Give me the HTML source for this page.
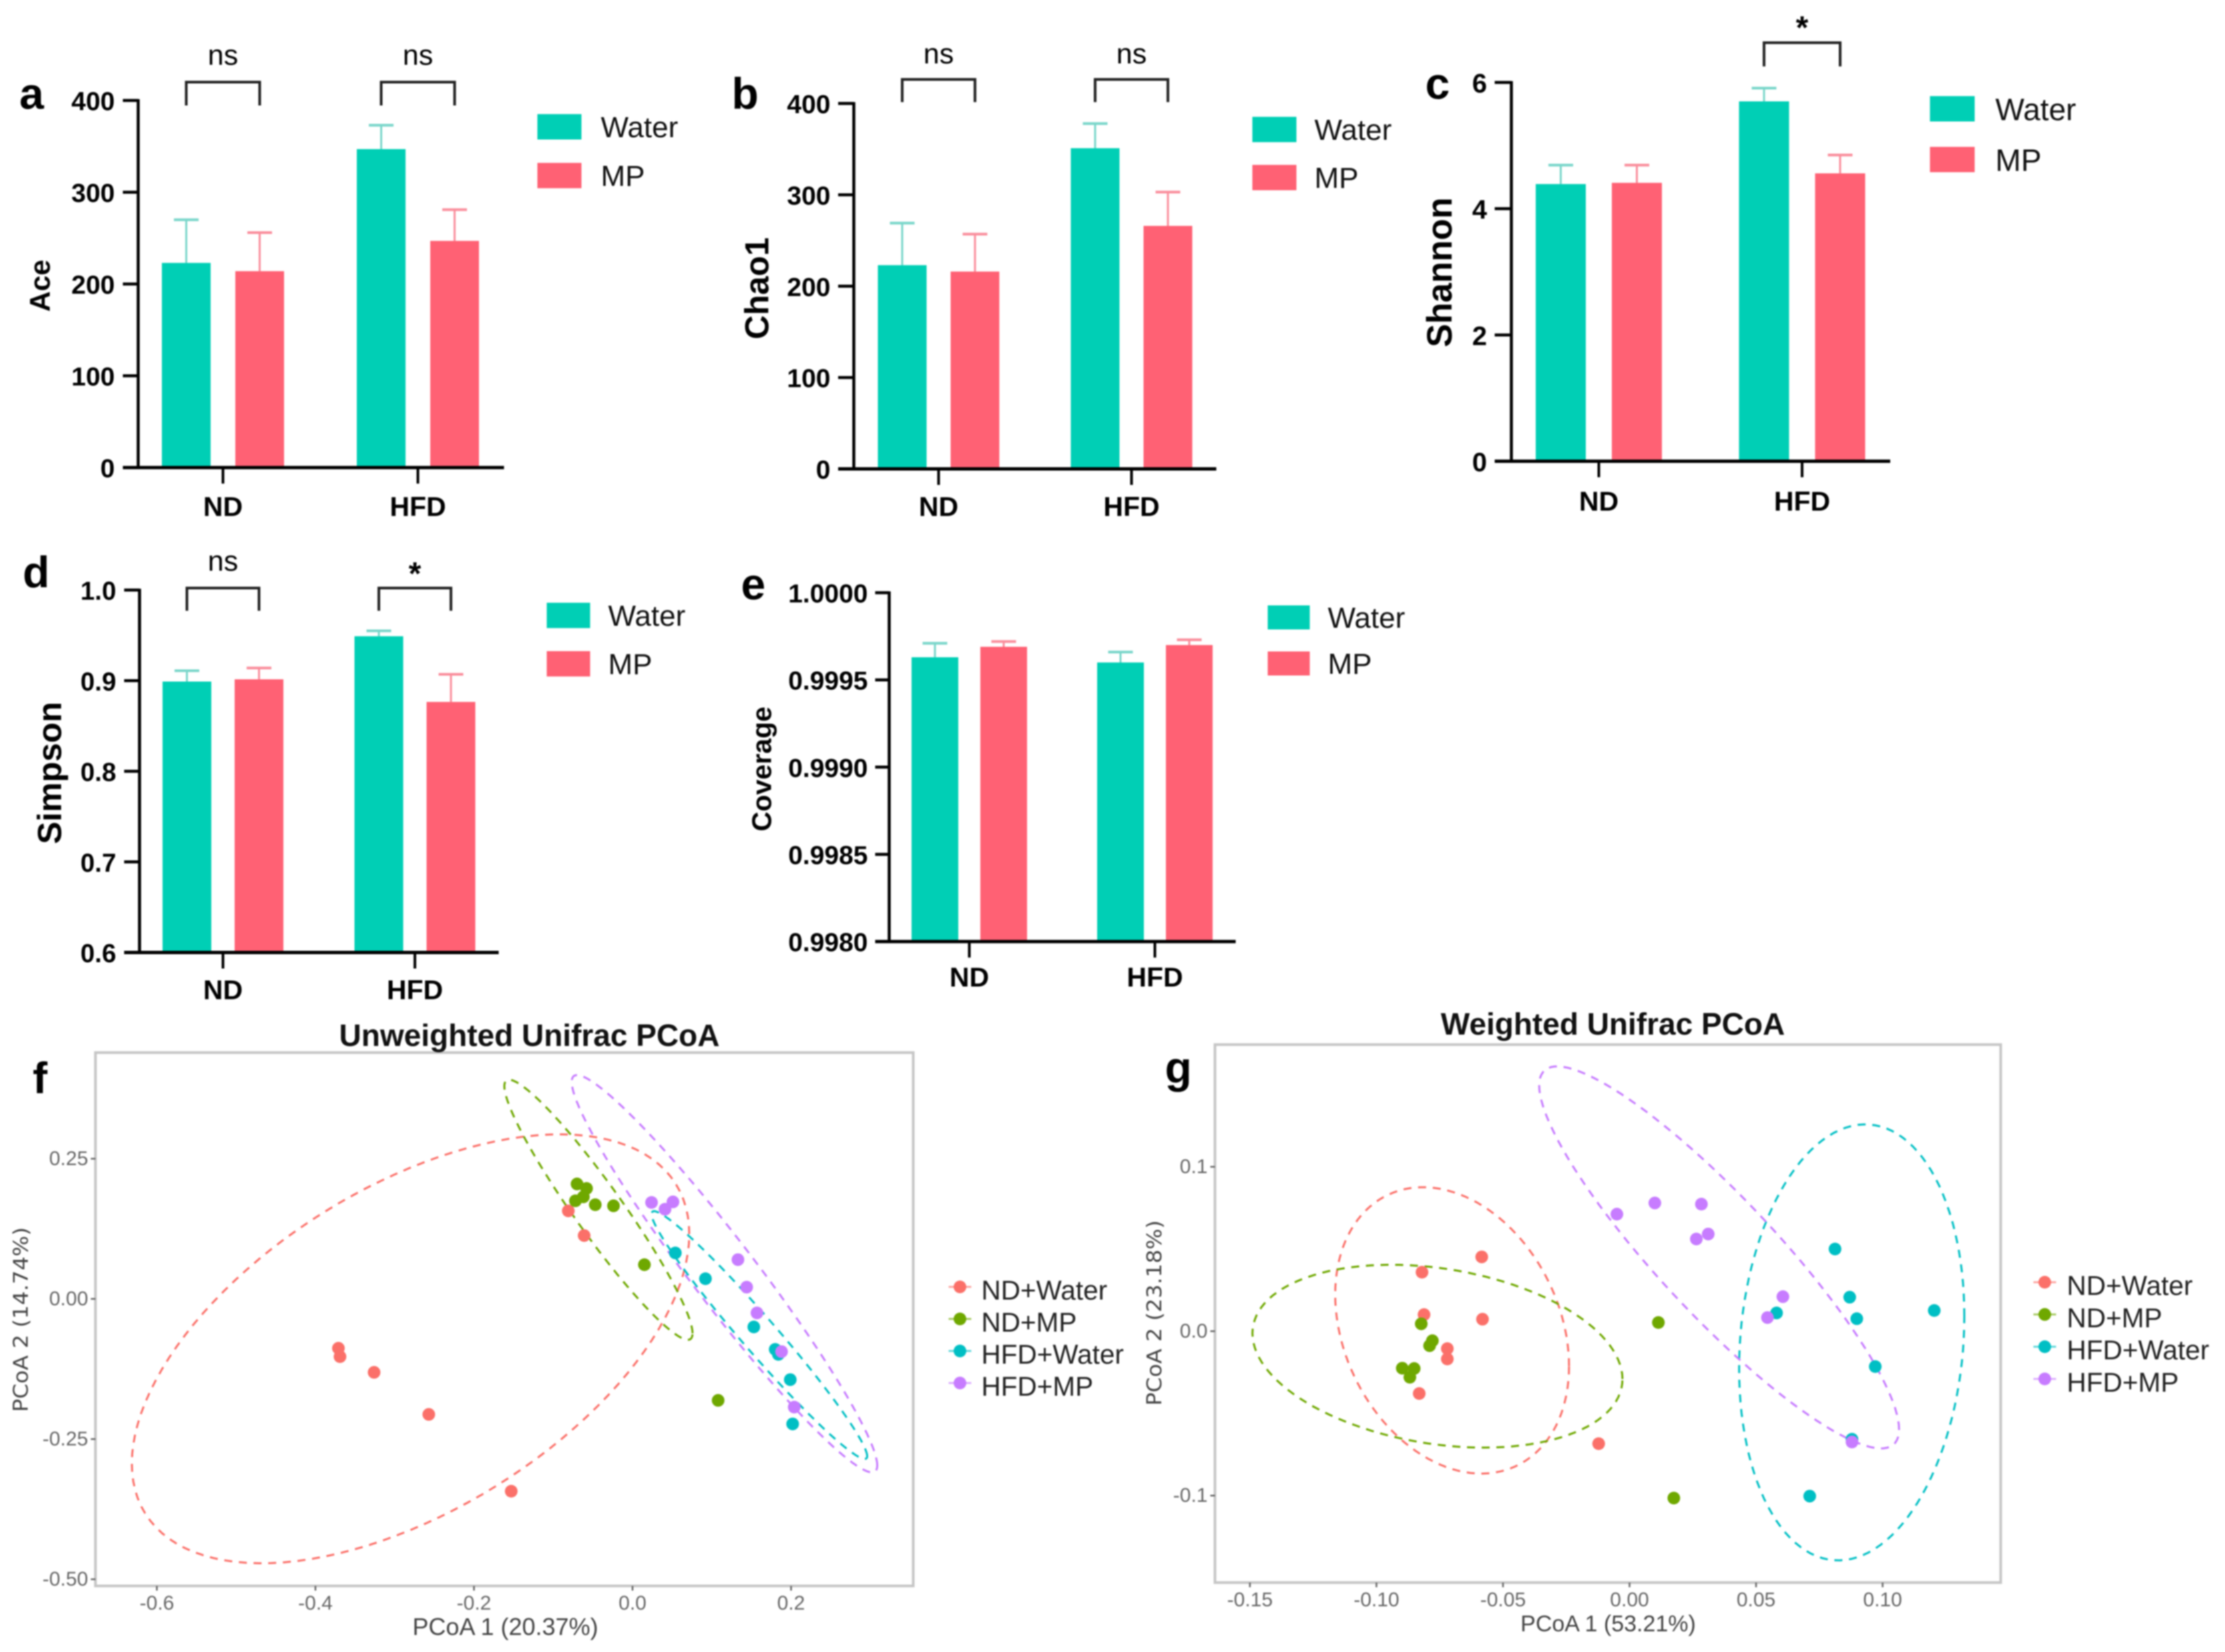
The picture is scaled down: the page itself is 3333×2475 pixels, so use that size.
<!DOCTYPE html>
<html lang="en">
<head>
<meta charset="utf-8">
<title>Alpha diversity and PCoA panels</title>
<style>
html,body{margin:0;padding:0;background:#fff;}
svg{display:block;filter:blur(1px);}
text{font-family:"Liberation Sans",sans-serif;}
</style>
</head>
<body>
<svg id="figure" xmlns="http://www.w3.org/2000/svg" width="3333" height="2475" viewBox="0 0 3333 2475">
  <rect x="0" y="0" width="3333" height="2475" fill="#ffffff"/>
  <g id="panel-a"></g>
  <g id="panel-b"></g>
  <g id="panel-c"></g>
  <g id="panel-d"></g>
  <g id="panel-e"></g>
  <g id="panel-f"></g>
  <g id="panel-g"></g>
</svg>
<script>
// ---------- shared categories ----------
const barGroups = ['ND', 'HFD'];
const barSeriesNames = ['Water', 'MP'];
const scatterSeriesNames = ['ND+Water', 'ND+MP', 'HFD+Water', 'HFD+MP'];

// ---------- panel a: Ace ----------
const aTicks = [0, 100, 200, 300, 400];
const aTickLabels = ['0', '100', '200', '300', '400'];
const aWater = [223, 347];
const aMP = [214, 247];
const aWaterUpper = [270, 373];
const aMPUpper = [256, 281];
const aSignificance = ['ns', 'ns'];

// ---------- panel b: Chao1 ----------
const bTicks = [0, 100, 200, 300, 400];
const bTickLabels = ['0', '100', '200', '300', '400'];
const bWater = [223, 351];
const bMP = [216, 266];
const bWaterUpper = [269, 378];
const bMPUpper = [257, 303];
const bSignificance = ['ns', 'ns'];

// ---------- panel c: Shannon ----------
const cTicks = [0, 2, 4, 6];
const cTickLabels = ['0', '2', '4', '6'];
const cWater = [4.39, 5.70];
const cMP = [4.41, 4.56];
const cWaterUpper = [4.69, 5.91];
const cMPUpper = [4.69, 4.85];
const cSignificance = ['', '*'];

// ---------- panel d: Simpson ----------
const dTicks = [0.6, 0.7, 0.8, 0.9, 1.0];
const dTickLabels = ['0.6', '0.7', '0.8', '0.9', '1.0'];
const dWater = [0.899, 0.949];
const dMP = [0.9015, 0.8765];
const dWaterUpper = [0.911, 0.955];
const dMPUpper = [0.914, 0.907];
const dSignificance = ['ns', '*'];

// ---------- panel e: Coverage ----------
const eTicks = [0.998, 0.9985, 0.999, 0.9995, 1.0];
const eTickLabels = ['0.9980', '0.9985', '0.9990', '0.9995', '1.0000'];
const eWater = [0.99963, 0.9996];
const eMP = [0.99969, 0.9997];
const eWaterUpper = [0.99971, 0.99966];
const eMPUpper = [0.99972, 0.99973];
const eSignificance = ['', ''];

// ---------- panel f: Unweighted Unifrac PCoA ----------
const fXTicks = [-0.6, -0.4, -0.2, 0, 0.2];
const fXTickLabels = ['-0.6', '-0.4', '-0.2', '0.0', '0.2'];
const fYTicks = [-0.5, -0.25, 0, 0.25];
const fYTickLabels = ['-0.50', '-0.25', '0.00', '0.25'];
const fNdWaterX = [-0.371, -0.369, -0.326, -0.257, -0.153, -0.081, -0.061];
const fNdWaterY = [-0.088, -0.103, -0.131, -0.206, -0.343, 0.157, 0.113];
const fNdMpX = [-0.070, -0.058, -0.062, -0.072, -0.047, -0.024, 0.015, 0.108];
const fNdMpY = [0.205, 0.197, 0.182, 0.175, 0.168, 0.166, 0.061, -0.181];
const fHfdWaterX = [0.054, 0.092, 0.153, 0.180, 0.184, 0.199, 0.202];
const fHfdWaterY = [0.082, 0.036, -0.050, -0.090, -0.099, -0.144, -0.223];
const fHfdMpX = [0.024, 0.041, 0.051, 0.133, 0.144, 0.157, 0.188, 0.204];
const fHfdMpY = [0.172, 0.160, 0.173, 0.070, 0.021, -0.025, -0.094, -0.193];
// confidence ellipses, data units: centre x, centre y, x radius, y radius, correlation
const fNdWaterEllipse = [-0.280, -0.089, 0.3516, 0.3825, 0.535];
const fNdMpEllipse = [-0.043, 0.159, 0.1187, 0.232, -0.95];
const fHfdWaterEllipse = [0.160, -0.0645, 0.136, 0.221, -0.977];
const fHfdMpEllipse = [0.116, 0.045, 0.1927, 0.3543, -0.965];

// ---------- panel g: Weighted Unifrac PCoA ----------
const gXTicks = [-0.15, -0.10, -0.05, 0, 0.05, 0.10];
const gXTickLabels = ['-0.15', '-0.10', '-0.05', '0.00', '0.05', '0.10'];
const gYTicks = [-0.1, 0, 0.1];
const gYTickLabels = ['-0.1', '0.0', '0.1'];
const gNdWaterX = [-0.0584, -0.0820, -0.0812, -0.0581, -0.0720, -0.0720, -0.0831, -0.0122];
const gNdWaterY = [0.0452, 0.0359, 0.0101, 0.0073, -0.0106, -0.0169, -0.0379, -0.0684];
const gNdMpX = [-0.0823, -0.0779, -0.0790, -0.0898, -0.0851, -0.0868, 0.0114, 0.0175];
const gNdMpY = [0.0045, -0.0058, -0.0088, -0.0225, -0.0227, -0.0280, 0.0053, -0.1015];
const gHfdWaterX = [0.0812, 0.0870, 0.0898, 0.1204, 0.0581, 0.0971, 0.0879, 0.0712];
const gHfdWaterY = [0.05, 0.0207, 0.0076, 0.0126, 0.0111, -0.0215, -0.0657, -0.1003];
const gHfdMpX = [-0.0050, 0.0100, 0.0284, 0.0311, 0.0264, 0.0606, 0.0545, 0.0879];
const gHfdMpY = [0.0712, 0.0780, 0.0773, 0.0591, 0.0561, 0.0210, 0.0083, -0.0674];
const gNdWaterEllipse = [-0.0701, 0.0005, 0.0462, 0.0871, -0.25];
const gNdMpEllipse = [-0.0759, -0.0152, 0.0731, 0.0556, -0.25];
const gHfdWaterEllipse = [0.0878, -0.0068, 0.0445, 0.1326, 0.12];
const gHfdMpEllipse = [0.0354, 0.0449, 0.0711, 0.1162, -0.90];

// ---------- helpers ----------
const SVGNS = 'http://www.w3.org/2000/svg';
const WATER = '#00CFB5';
const MP = '#FF6174';
const WATER_ERR = '#7AD6CA';
const MP_ERR = '#FA8E9C';
const GGCOLORS = ['#FB7069', '#6FA800', '#00BFC4', '#C77CFF'];

function make(parent, tag, attrs, content) {
  const node = document.createElementNS(SVGNS, tag);
  for (const k in attrs) node.setAttribute(k, attrs[k]);
  if (content !== undefined) node.textContent = content;
  parent.appendChild(node);
  return node;
}

function drawBarPanel(p) {
  const root = document.getElementById(p.id);
  const yScale = v => p.y0 - (v - p.yMin) / (p.yMax - p.yMin) * (p.y0 - p.yTop);
  const xScale = i => p.groupStart + i * p.groupStep;

  const letter = make(root, 'text', {x: p.letterX, y: p.letterY, 'font-size': 66, 'font-weight': 'bold', fill: '#000'}, p.letter);
  
  

  const yTitle = make(root, 'text', {transform: 'translate(' + p.titleX + ',' + p.titleY + ') rotate(-90)', 'text-anchor': 'middle', 'dominant-baseline': 'central', 'font-size': p.titleSize, 'font-weight': 'bold', fill: '#000'}, p.title);
  
  

  [p.water, p.mp].forEach((values, s) => {
    const upper = s === 0 ? p.waterUpper : p.mpUpper;
    const offset = s === 0 ? -p.barOffset : p.barOffset;
    values.forEach((v, i) => {
      const cx = xScale(i) + offset;
      const stem = make(root, 'line', {x1: cx, x2: cx, y1: yScale(v), y2: yScale(upper[i]), stroke: s === 0 ? WATER_ERR : MP_ERR, 'stroke-width': 3});
      
      
      const cap = make(root, 'line', {x1: cx - 18.5, x2: cx + 18.5, y1: yScale(upper[i]), y2: yScale(upper[i]), stroke: s === 0 ? WATER_ERR : MP_ERR, 'stroke-width': 4});
      
      
      const bar = make(root, 'rect', {x: cx - p.barWidth / 2, y: yScale(v), width: p.barWidth, height: yScale(p.yMin) - yScale(v), fill: s === 0 ? WATER : MP});
      
      
    });
  });

  const yAxis = make(root, 'line', {x1: p.axisX, x2: p.axisX, y1: yScale(p.yMax) - 2, y2: yScale(p.yMin) + 2, stroke: '#000', 'stroke-width': 4.5});
  
  
  const xAxis = make(root, 'line', {x1: p.tickLeft, x2: p.axisEnd, y1: yScale(p.yMin), y2: yScale(p.yMin), stroke: '#000', 'stroke-width': 5});
  
  

  p.ticks.forEach((t, i) => {
    const tick = make(root, 'line', {x1: p.tickLeft, x2: p.axisX, y1: yScale(t), y2: yScale(t), stroke: '#000', 'stroke-width': 4.5});
    
    
    const label = make(root, 'text', {x: p.tickLabelX, y: yScale(t) + 2, 'text-anchor': 'end', 'dominant-baseline': 'central', 'font-size': p.tickSize, 'font-weight': 'bold', fill: '#000'}, p.tickLabels[i]);
    
    
  });

  barGroups.forEach((g, i) => {
    const tick = make(root, 'line', {x1: xScale(i), x2: xScale(i), y1: yScale(p.yMin), y2: yScale(p.yMin) + 24, stroke: '#000', 'stroke-width': 4});
    
    
    const label = make(root, 'text', {x: xScale(i), y: p.catY, 'text-anchor': 'middle', 'dominant-baseline': 'central', 'font-size': 41, 'font-weight': 'bold', fill: '#000'}, g);
    
    
  });

  p.significance.forEach((sig, i) => {
    if (!sig) return;
    const left = xScale(i) - p.barOffset;
    const right = xScale(i) + p.barOffset;
    const bracket = make(root, 'path', {d: 'M' + left + ' ' + p.bracketBottom + 'V' + p.bracketTop + 'H' + right + 'V' + p.bracketBottom, fill: 'none', stroke: '#222', 'stroke-width': 4});
    
    
    const star = sig === '*';
    const text = make(root, 'text', {x: xScale(i), y: star ? p.starY + 6 : p.nsY - 1, 'text-anchor': 'middle', 'dominant-baseline': 'central', 'font-size': star ? 48 : 43, 'font-weight': star ? 'bold' : 'normal', fill: '#000'}, sig);
    
    
  });

  barSeriesNames.forEach((name, i) => {
    const y = p.legendY + i * p.legendStep;
    const swatch = make(root, 'rect', {x: p.legendX, y: y, width: p.legendW, height: p.legendH, fill: i === 0 ? WATER : MP});
    
    
    const label = make(root, 'text', {x: p.legendTextX - 1, y: y + p.legendH / 2 + 1, 'dominant-baseline': 'central', 'font-size': p.legendSize, fill: '#111'}, name);
    
    
  });
}

function drawScatterPanel(p) {
  const root = document.getElementById(p.id);
  const xScale = v => p.xZero + v * p.xUnit;
  const yScale = v => p.yZero - v * p.yUnit;

  const frame = make(root, 'rect', {x: p.frameX, y: p.frameY, width: p.frameW, height: p.frameH, fill: '#fff', stroke: '#c6c6c6', 'stroke-width': 4});
  
  

  const title = make(root, 'text', {x: p.titleX, y: p.titleY, 'text-anchor': 'middle', 'dominant-baseline': 'central', 'font-size': 46, 'font-weight': 'bold', fill: '#111'}, p.title);
  
  

  const letter = make(root, 'text', {x: p.letterX, y: p.letterY, 'font-size': 66, 'font-weight': 'bold', fill: '#000'}, p.letter);
  
  

  p.xTicks.forEach((t, i) => {
    const tick = make(root, 'line', {x1: xScale(t), x2: xScale(t), y1: p.frameY + p.frameH, y2: p.frameY + p.frameH + 7, stroke: '#666', 'stroke-width': 2.5});
    
    
    const label = make(root, 'text', {x: xScale(t), y: p.xLabelY, 'text-anchor': 'middle', 'dominant-baseline': 'central', 'font-size': 30, fill: '#666'}, p.xTickLabels[i]);
    
    
  });
  p.yTicks.forEach((t, i) => {
    const tick = make(root, 'line', {x1: p.frameX - 7, x2: p.frameX, y1: yScale(t), y2: yScale(t), stroke: '#666', 'stroke-width': 2.5});
    
    
    const label = make(root, 'text', {x: p.frameX - 11, y: yScale(t), 'text-anchor': 'end', 'dominant-baseline': 'central', 'font-size': 30, fill: '#666'}, p.yTickLabels[i]);
    
    
  });

  const xTitle = make(root, 'text', {x: p.xTitleX, y: p.xTitleY, 'text-anchor': 'middle', 'dominant-baseline': 'central', 'font-size': p.xTitleSize, fill: '#444'}, p.xTitle);
  
  
  const yTitle = make(root, 'text', {transform: 'translate(' + p.yTitleX + ',' + p.yTitleY + ') rotate(-90)', 'text-anchor': 'middle', 'dominant-baseline': 'central', 'font-size': 30, fill: '#444', textLength: p.yTitleLength, lengthAdjust: 'spacingAndGlyphs', style: 'font-family:"DejaVu Sans",sans-serif'}, p.yTitle);
  
  

  p.ellipses.forEach((e, s) => {
    const phi = Math.acos(e[4]);
    let d = '';
    for (let k = 0; k < 120; k++) {
      const t = k / 120 * 2 * Math.PI;
      const px = xScale(e[0] + e[2] * Math.cos(t));
      const py = yScale(e[1] + e[3] * Math.cos(t - phi));
      d += (k === 0 ? 'M' : 'L') + px.toFixed(1) + ' ' + py.toFixed(1);
    }
    const path = make(root, 'path', {d: d + 'Z', fill: 'none', stroke: GGCOLORS[s], 'stroke-width': 3, 'stroke-dasharray': '12 10'});
    
    
  });

  p.series.forEach((sr, s) => {
    sr[0].forEach((x, i) => {
      const dot = make(root, 'circle', {cx: xScale(x), cy: yScale(sr[1][i]), r: 9.5, fill: GGCOLORS[s]});
      
      
    });
  });

  scatterSeriesNames.forEach((name, i) => {
    const y = p.legendDotY + i * p.legendStep;
    const keyLine = make(root, 'line', {x1: p.legendDotX - 17, x2: p.legendDotX + 17, y1: y, y2: y, stroke: GGCOLORS[i], 'stroke-width': 3, 'stroke-opacity': 0.6});
    
    
    const key = make(root, 'circle', {cx: p.legendDotX, cy: y, r: 9.5, fill: GGCOLORS[i]});
    
    
    const label = make(root, 'text', {x: p.legendTextX, y: y + 5, 'dominant-baseline': 'central', 'font-size': 40.5, fill: '#222'}, name);
    
    
  });
}

// ---------- draw ----------
drawBarPanel({id: 'panel-a', letter: 'a', letterX: 29, letterY: 163, title: 'Ace', titleX: 61, titleY: 428, titleSize: 42.5,
  yMin: 0, yMax: 400, y0: 700.5, yTop: 150.5, axisX: 207, tickLeft: 184, axisEnd: 755, tickLabelX: 172, tickSize: 39,
  ticks: aTicks, tickLabels: aTickLabels, water: aWater, mp: aMP, waterUpper: aWaterUpper, mpUpper: aMPUpper, significance: aSignificance,
  groupStart: 334, groupStep: 292, barOffset: 55, barWidth: 73, catY: 759, bracketTop: 123, bracketBottom: 158, nsY: 84, starY: 36,
  legendX: 805, legendY: 171, legendW: 66, legendH: 38, legendStep: 73, legendTextX: 901, legendSize: 44});

drawBarPanel({id: 'panel-b', letter: 'b', letterX: 1096, letterY: 163, title: 'Chao1', titleX: 1134, titleY: 432, titleSize: 50,
  yMin: 0, yMax: 400, y0: 702.5, yTop: 155, axisX: 1279, tickLeft: 1255.5, axisEnd: 1822, tickLabelX: 1244, tickSize: 39,
  ticks: bTicks, tickLabels: bTickLabels, water: bWater, mp: bMP, waterUpper: bWaterUpper, mpUpper: bMPUpper, significance: bSignificance,
  groupStart: 1406, groupStep: 289, barOffset: 54.5, barWidth: 73, catY: 759, bracketTop: 119, bracketBottom: 153, nsY: 82, starY: 36,
  legendX: 1876, legendY: 175, legendW: 66, legendH: 38, legendStep: 72, legendTextX: 1970, legendSize: 44});

drawBarPanel({id: 'panel-c', letter: 'c', letterX: 2135, letterY: 148, title: 'Shannon', titleX: 2157, titleY: 408, titleSize: 52.5,
  yMin: 0, yMax: 6, y0: 691, yTop: 123.5, axisX: 2264, tickLeft: 2239, axisEnd: 2831.5, tickLabelX: 2227.5, tickSize: 40,
  ticks: cTicks, tickLabels: cTickLabels, water: cWater, mp: cMP, waterUpper: cWaterUpper, mpUpper: cMPUpper, significance: cSignificance,
  groupStart: 2395, groupStep: 304.5, barOffset: 57, barWidth: 75, catY: 751, bracketTop: 64, bracketBottom: 99.5, nsY: 30, starY: 36,
  legendX: 2891, legendY: 144, legendW: 67, legendH: 38, legendStep: 76, legendTextX: 2990, legendSize: 46});

drawBarPanel({id: 'panel-d', letter: 'd', letterX: 34, letterY: 880, title: 'Simpson', titleX: 74, titleY: 1158, titleSize: 50.5,
  yMin: 0.6, yMax: 1.0, y0: 1427, yTop: 884, axisX: 209, tickLeft: 186, axisEnd: 747, tickLabelX: 174, tickSize: 38.5,
  ticks: dTicks, tickLabels: dTickLabels, water: dWater, mp: dMP, waterUpper: dWaterUpper, mpUpper: dMPUpper, significance: dSignificance,
  groupStart: 334, groupStep: 287.5, barOffset: 54, barWidth: 73, catY: 1483, bracketTop: 881, bracketBottom: 915, nsY: 842, starY: 854,
  legendX: 819, legendY: 903, legendW: 65, legendH: 38, legendStep: 72.5, legendTextX: 912, legendSize: 44});

drawBarPanel({id: 'panel-e', letter: 'e', letterX: 1110, letterY: 898, title: 'Coverage', titleX: 1141, titleY: 1152, titleSize: 41,
  yMin: 0.998, yMax: 1.0, y0: 1410.6, yTop: 888, axisX: 1332, tickLeft: 1311, axisEnd: 1851, tickLabelX: 1300, tickSize: 39,
  ticks: eTicks, tickLabels: eTickLabels, water: eWater, mp: eMP, waterUpper: eWaterUpper, mpUpper: eMPUpper, significance: eSignificance,
  groupStart: 1452, groupStep: 278, barOffset: 51.5, barWidth: 70, catY: 1464, bracketTop: 850, bracketBottom: 870, nsY: 830, starY: 830,
  legendX: 1899, legendY: 907, legendW: 63, legendH: 36, legendStep: 69, legendTextX: 1990, legendSize: 44});

drawScatterPanel({id: 'panel-f', letter: 'f', letterX: 49, letterY: 1638, title: 'Unweighted Unifrac PCoA', titleX: 793, titleY: 1551,
  frameX: 143, frameY: 1577, frameW: 1225, frameH: 799,
  xZero: 947.5, xUnit: 1187.5, yZero: 1946, yUnit: 840,
  xTicks: fXTicks, xTickLabels: fXTickLabels, yTicks: fYTicks, yTickLabels: fYTickLabels, xLabelY: 2402,
  xTitle: 'PCoA 1 (20.37%)', xTitleX: 757, xTitleY: 2437, xTitleSize: 36,
  yTitle: 'PCoA 2 (14.74%)', yTitleX: 32, yTitleY: 1977, yTitleLength: 277,
  ellipses: [fNdWaterEllipse, fNdMpEllipse, fHfdWaterEllipse, fHfdMpEllipse],
  series: [[fNdWaterX, fNdWaterY], [fNdMpX, fNdMpY], [fHfdWaterX, fHfdWaterY], [fHfdMpX, fHfdMpY]],
  legendDotX: 1438, legendDotY: 1928, legendStep: 48, legendTextX: 1470});

drawScatterPanel({id: 'panel-g', letter: 'g', letterX: 1745, letterY: 1622, title: 'Weighted Unifrac PCoA', titleX: 2416, titleY: 1534,
  frameX: 1820, frameY: 1565, frameW: 1177, frameH: 806,
  xZero: 2441, xUnit: 3791, yZero: 1994.4, yUnit: 2463,
  xTicks: gXTicks, xTickLabels: gXTickLabels, yTicks: gYTicks, yTickLabels: gYTickLabels, xLabelY: 2397,
  xTitle: 'PCoA 1 (53.21%)', xTitleX: 2409, xTitleY: 2433, xTitleSize: 34,
  yTitle: 'PCoA 2 (23.18%)', yTitleX: 1730, yTitleY: 1967, yTitleLength: 278,
  ellipses: [gNdWaterEllipse, gNdMpEllipse, gHfdWaterEllipse, gHfdMpEllipse],
  series: [[gNdWaterX, gNdWaterY], [gNdMpX, gNdMpY], [gHfdWaterX, gHfdWaterY], [gHfdMpX, gHfdMpY]],
  legendDotX: 3063, legendDotY: 1921, legendStep: 48.3, legendTextX: 3096});
</script>
</body>
</html>
